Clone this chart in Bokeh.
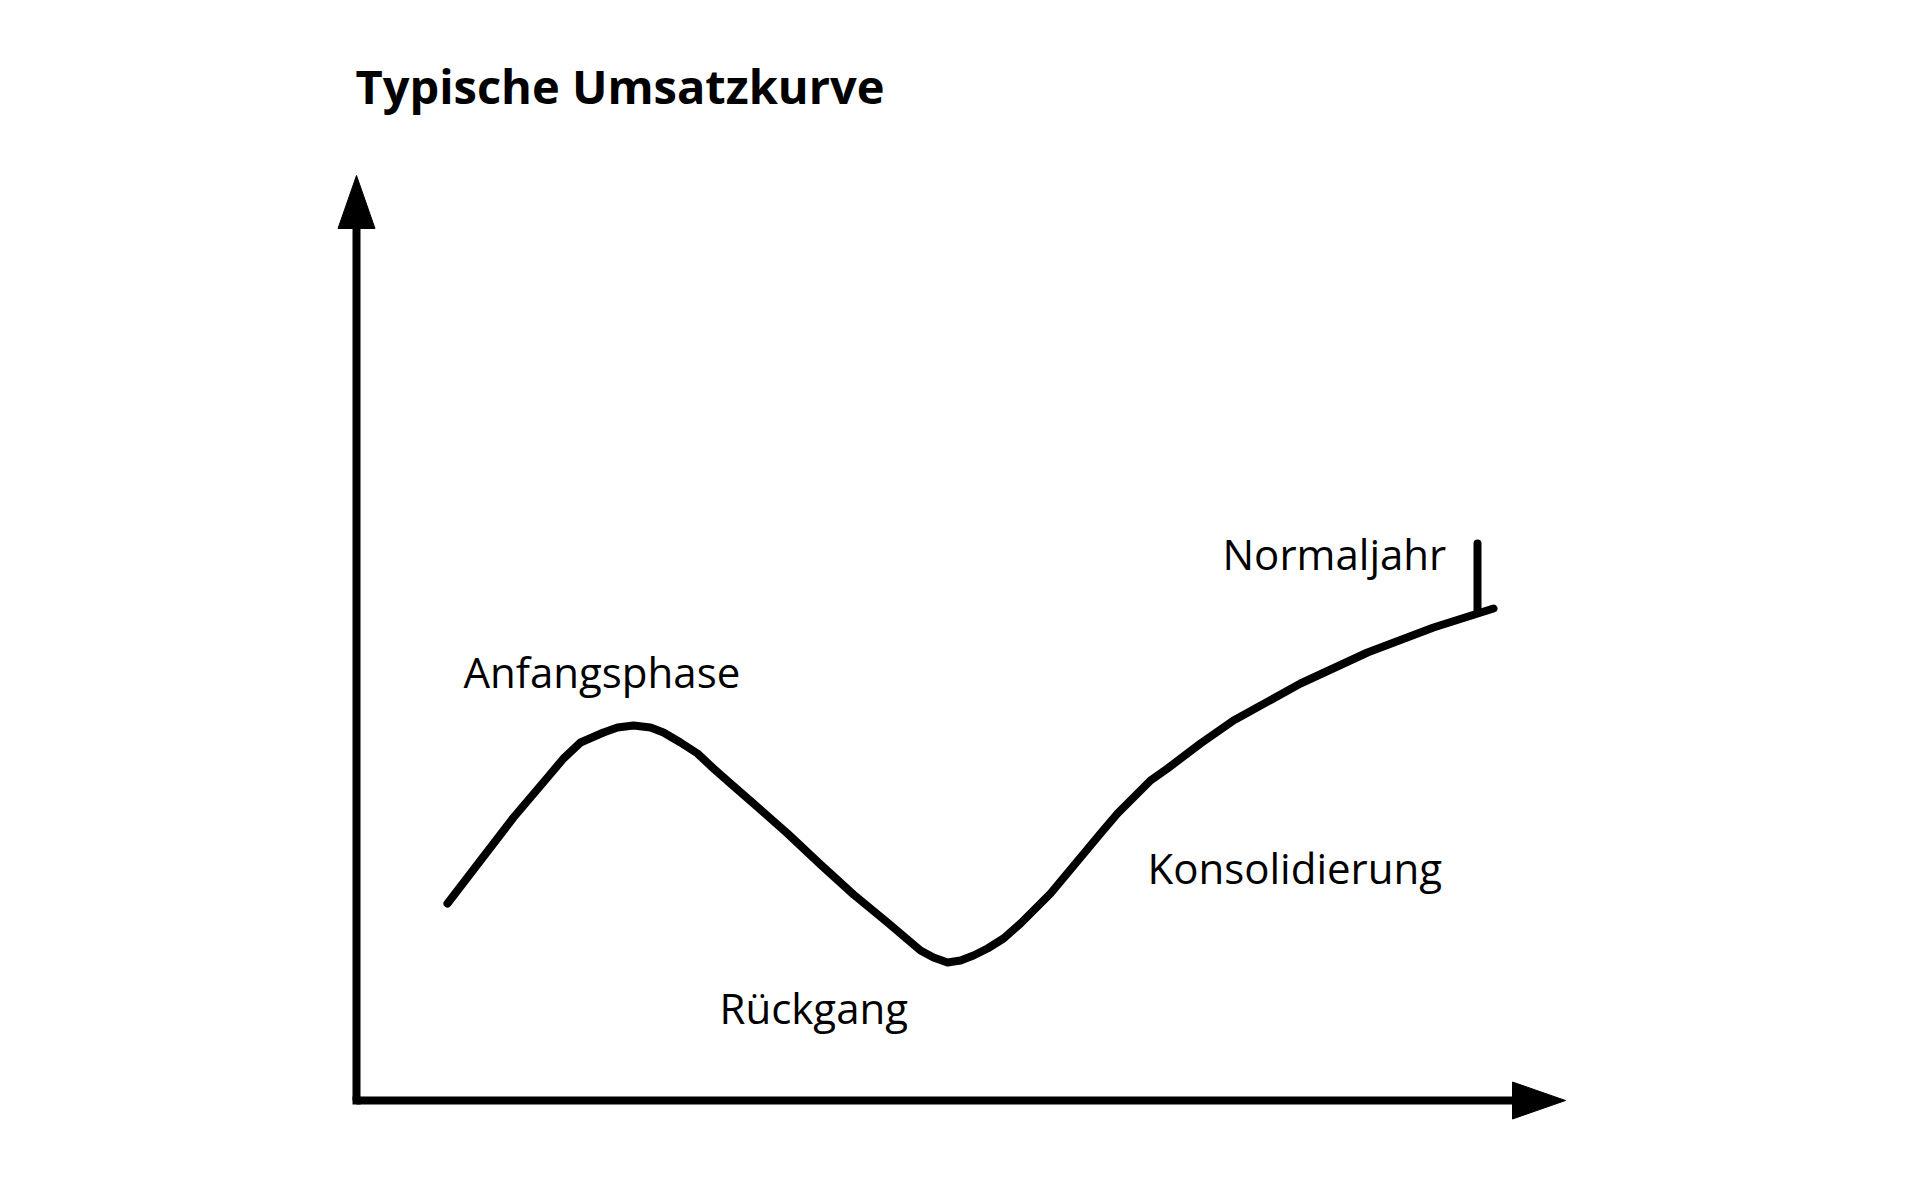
from bokeh.plotting import figure
from bokeh.models import Range1d
from bokeh.core.properties import value
from bokeh.embed import file_html
from bokeh.resources import INLINE

# --- data (x = time, y = revenue, abstract units) ---
curve_x = [9.1, 12.4, 15.7, 17.4, 19.1, 20.7, 22.4, 24.7, 26.1, 27.7, 29.4, 30.7,
           32.4, 34.1, 35.7, 37.4, 39.7, 43.1, 46.4, 49.7, 53.1, 56.4, 57.7, 59.1,
           60.4, 61.7, 63.1, 64.7, 66.4, 69.4, 71.9, 74.4, 76.1, 77.7, 79.4, 81.1,
           84.4, 87.7, 94.4, 101.1, 107.7, 113.7]
curve_y = [19.7, 24.0, 28.3, 30.3, 32.3, 34.2, 35.8, 36.8, 37.3, 37.5, 37.3, 36.8,
           35.8, 34.7, 33.2, 31.7, 29.7, 26.7, 23.6, 20.6, 17.8, 15.0, 14.3, 13.8,
           14.0, 14.5, 15.2, 16.2, 17.7, 20.7, 23.7, 26.7, 28.7, 30.3, 32.0, 33.2,
           35.7, 38.0, 41.7, 44.8, 47.3, 49.2]

marker_x = [112.1, 112.1]
marker_y = [49.1, 55.7]

label_text = ["Anfangsphase", "Rückgang", "Konsolidierung", "Normaljahr"]
label_x = [10.7, 36.3, 79.1, 86.6]
label_y = [42.9, 9.3, 23.3, 54.7]

title_text = "Typische Umsatzkurve"

# axis extents
x_axis_end = 120.9
y_axis_end = 92.5
head_len = 5.3
head_half = 1.85

W, H = 1904, 1164
p = figure(width=W, height=H, output_backend="svg", toolbar_location=None,
           x_range=Range1d(-35.6, 154.8), y_range=Range1d(-6.4, 110.0),
           x_axis_location=None, y_axis_location=None, min_border=0)
p.grid.visible = False
p.outline_line_color = None
p.background_fill_color = "white"
p.border_fill_color = "white"

lw = 8
# axes lines
p.line([0, 0], [0, y_axis_end - head_len], line_width=lw, line_color="black", line_cap="butt")
p.line([0, x_axis_end - head_len], [0, 0], line_width=lw, line_color="black", line_cap="butt")
p.line([-0.4, 0.4], [0, 0], line_width=lw, line_color="black")
# arrow heads
p.patch([-head_half, head_half, 0], [y_axis_end - head_len, y_axis_end - head_len, y_axis_end],
        fill_color="black", line_color="black", line_width=1)
p.patch([x_axis_end - head_len, x_axis_end - head_len, x_axis_end], [-head_half, head_half, 0],
        fill_color="black", line_color="black", line_width=1)

# curve
p.line(curve_x, curve_y, line_width=lw, line_color="black", line_cap="round", line_join="round")
p.line(marker_x, marker_y, line_width=lw, line_color="black", line_cap="round")

# labels
p.text(x=label_x, y=label_y, text=label_text, text_font=value("Open Sans"),
       text_font_size="42px", text_color="black", text_align="left",
       text_baseline="alphabetic")

p.text(x=[-0.1], y=[101.5], text=[title_text], text_font=value("Open Sans"),
       text_font_size="47px", text_font_style="bold", text_color="black",
       text_align="left", text_baseline="alphabetic")

open("out.html", "w").write(file_html(p, INLINE))
